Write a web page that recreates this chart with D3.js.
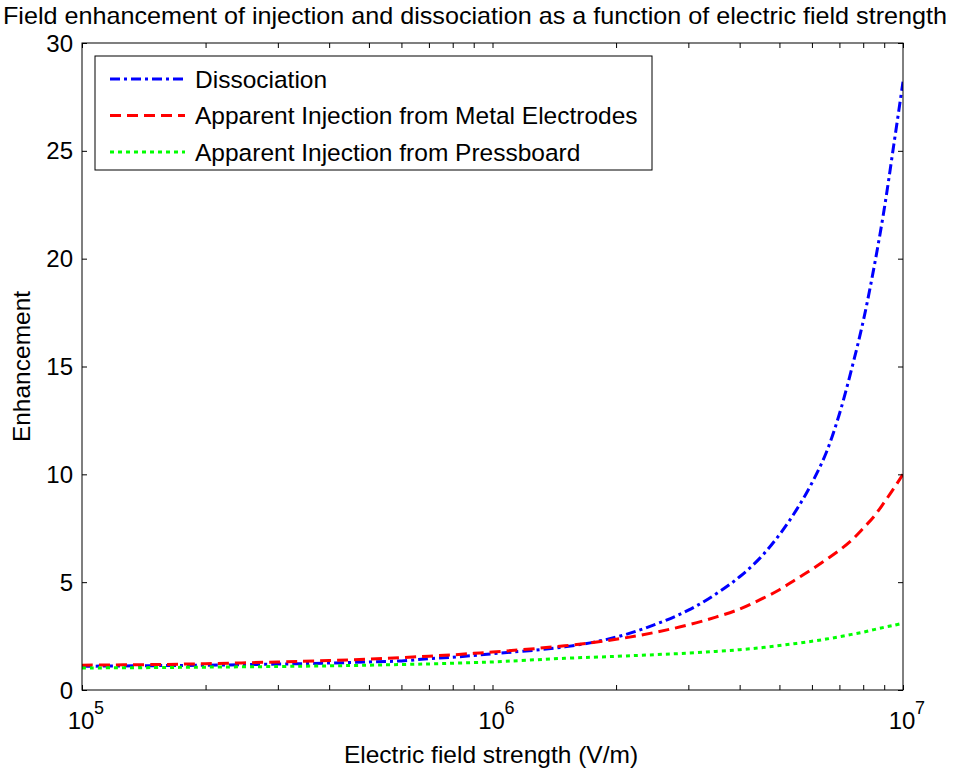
<!DOCTYPE html>
<html>
<head>
<meta charset="utf-8">
<script src="https://cdn.jsdelivr.net/npm/d3@7"></script>
<style>
  html, body { margin: 0; padding: 0; background: #fff; }
  svg { display: block; font-family: "Liberation Sans", Arial, sans-serif; }
</style>
</head>
<body>
<svg id="chart" width="957" height="771"></svg>
<script>
// Electric field strength samples (V/m)
const fieldStrength = [1e5, 1.5e5, 2e5, 3e5, 4e5, 5e5, 6e5, 7e5, 8e5, 9e5,
  1e6, 1.5e6, 2e6, 2.5e6, 3e6, 3.5e6, 4e6, 4.5e6, 5e6, 5.5e6, 6e6, 6.5e6,
  7e6, 7.5e6, 8e6, 8.5e6, 9e6, 9.5e6, 1e7];

// Enhancement factors for each mechanism
const dissociation = [1.10, 1.13, 1.15, 1.20, 1.25, 1.30, 1.35, 1.45, 1.52, 1.60,
  1.68, 2.00, 2.45, 3.05, 3.70, 4.45, 5.25, 6.15, 7.20, 8.35, 9.60, 11.0,
  12.8, 14.9, 17.1, 19.6, 22.3, 25.3, 28.2];
const injectionMetal = [1.15, 1.18, 1.22, 1.30, 1.37, 1.43, 1.50, 1.57, 1.63, 1.70,
  1.76, 2.05, 2.35, 2.68, 3.02, 3.38, 3.75, 4.20, 4.65, 5.15, 5.60, 6.05,
  6.48, 6.95, 7.50, 8.05, 8.70, 9.35, 10.0];
const injectionPressboard = [1.02, 1.04, 1.06, 1.09, 1.12, 1.15, 1.18, 1.21, 1.24, 1.27,
  1.30, 1.47, 1.56, 1.64, 1.71, 1.79, 1.87, 1.96, 2.06, 2.16, 2.26, 2.36,
  2.47, 2.58, 2.68, 2.80, 2.91, 3.00, 3.10];

const seriesNames = ["Dissociation", "Apparent Injection from Metal Electrodes", "Apparent Injection from Pressboard"];
const yTicks = [0, 5, 10, 15, 20, 25, 30];
const xDecades = [1e5, 1e6, 1e7];

const titleText = "Field enhancement of injection and dissociation as a function of electric field strength";
const xLabel = "Electric field strength (V/m)";
const yLabel = "Enhancement";

const series = [
  { name: seriesNames[0], values: dissociation, color: "#0000ff", dash: "10,4,3,4" },
  { name: seriesNames[1], values: injectionMetal, color: "#ff0000", dash: "11,6" },
  { name: seriesNames[2], values: injectionPressboard, color: "#00ff00", dash: "4,4" }
];

const svg = d3.select("#chart");
const margin = { left: 82, right: 54, top: 43, bottom: 81 };
const W = 957, H = 771;
const x0 = margin.left, x1 = W - margin.right, y0 = H - margin.bottom, y1 = margin.top;

const x = d3.scaleLog().domain([1e5, 1e7]).range([x0, x1]);
const y = d3.scaleLinear().domain([0, 30]).range([y0, y1]);

const fs = 24;
const fsLabel = 24.5;

// Title
svg.append("text")
  .attr("x", 475).attr("y", 24)
  .attr("text-anchor", "middle")
  .attr("font-size", fs)
  .attr("textLength", 944)
  .attr("lengthAdjust", "spacingAndGlyphs")
  .text(titleText);

// Curves (clipped to the plot area)
svg.append("clipPath").attr("id", "plot-clip")
  .append("rect").attr("x", x0).attr("y", y1).attr("width", x1 - x0).attr("height", y0 - y1);

const line = d3.line()
  .x((d, i) => x(fieldStrength[i]))
  .y(d => y(d))
  .curve(d3.curveCatmullRom);

const plot = svg.append("g").attr("clip-path", "url(#plot-clip)");
series.forEach(s => {
  plot.append("path")
    .attr("d", line(s.values))
    .attr("fill", "none")
    .attr("stroke", s.color)
    .attr("stroke-width", 3)
    .attr("stroke-dasharray", s.dash);
});

// Axis frame
svg.append("rect")
  .attr("x", x0).attr("y", y1).attr("width", x1 - x0).attr("height", y0 - y1)
  .attr("fill", "none").attr("stroke", "#000").attr("stroke-width", 1);

// Inward ticks on all four sides (log minor + decades on x)
const tickLen = 5;
const xTickVals = x.ticks();
const gBottom = svg.append("g").attr("transform", `translate(0,${y0})`)
  .call(d3.axisBottom(x).tickValues(xTickVals).tickSize(-tickLen).tickFormat(""));
const gTop = svg.append("g").attr("transform", `translate(0,${y1})`)
  .call(d3.axisTop(x).tickValues(xTickVals).tickSize(-tickLen).tickFormat(""));
const gLeft = svg.append("g").attr("transform", `translate(${x0},0)`)
  .call(d3.axisLeft(y).tickValues(yTicks).tickSize(-tickLen).tickFormat(""));
const gRight = svg.append("g").attr("transform", `translate(${x1},0)`)
  .call(d3.axisRight(y).tickValues(yTicks).tickSize(-tickLen).tickFormat(""));
[gBottom, gTop, gLeft, gRight].forEach(g => {
  g.select(".domain").remove();
  g.selectAll("line").attr("stroke", "#000");
});

// Y tick labels
svg.append("g").selectAll("text").data(yTicks).join("text")
  .attr("x", x0 - 9).attr("y", d => y(d) + 8.5)
  .attr("text-anchor", "end")
  .attr("font-size", fs)
  .text(d => d);

// X decade labels 10^n
const xl = svg.append("g").selectAll("g").data(xDecades).join("g")
  .attr("transform", d => `translate(${x(d)},${y0 + 39})`);
xl.append("text")
  .attr("x", -1).attr("text-anchor", "middle")
  .attr("font-size", fs)
  .text("10");
xl.append("text")
  .attr("x", 12).attr("y", -15)
  .attr("font-size", 18)
  .text(d => Math.round(Math.log10(d)));

// Axis labels
svg.append("text")
  .attr("x", 491).attr("y", 763)
  .attr("text-anchor", "middle")
  .attr("font-size", fsLabel)
  .text(xLabel);
svg.append("text")
  .attr("transform", `translate(30,${(y0 + y1) / 2}) rotate(-90)`)
  .attr("text-anchor", "middle")
  .attr("font-size", fsLabel)
  .text(yLabel);

// Legend
const lg = svg.append("g").attr("transform", "translate(95,56)");
lg.append("rect").attr("width", 557).attr("height", 114)
  .attr("fill", "#fff").attr("stroke", "#000").attr("stroke-width", 1);
series.forEach((s, i) => {
  const cy = 23 + i * 36.5;
  lg.append("line")
    .attr("x1", 15).attr("x2", 90).attr("y1", cy).attr("y2", cy)
    .attr("stroke", s.color).attr("stroke-width", 3)
    .attr("stroke-dasharray", s.dash);
  lg.append("text")
    .attr("x", 100).attr("y", cy + 8.5)
    .attr("font-size", fsLabel)
    .text(s.name);
});
</script>
</body>
</html>
